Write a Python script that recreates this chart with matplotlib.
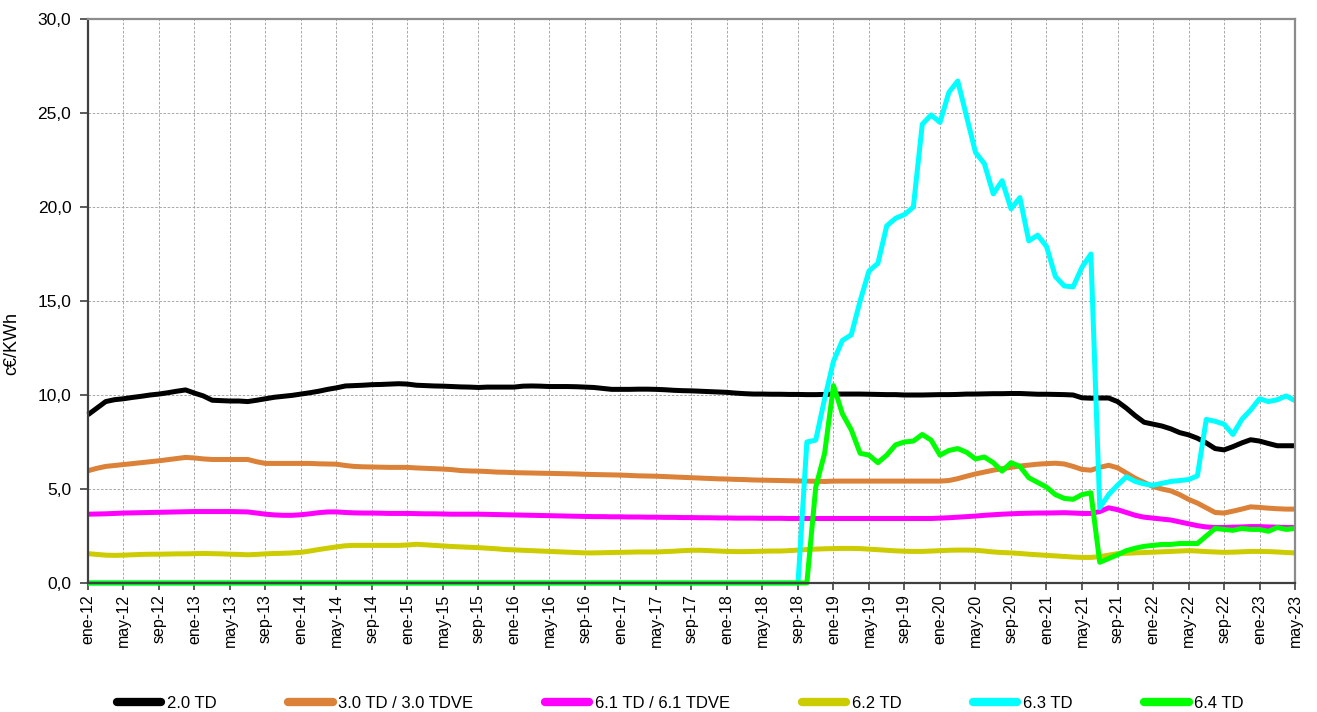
import matplotlib
matplotlib.use("Agg")
import matplotlib.pyplot as plt
from matplotlib.ticker import FuncFormatter
import numpy as np

plt.rcParams['font.family'] = ['Liberation Sans', 'DejaVu Sans']

# meses ene-12 .. may-23
nombres_mes = ["ene", "feb", "mar", "abr", "may", "jun", "jul", "ago", "sep", "oct", "nov", "dic"]
meses = [f"{nombres_mes[i % 12]}-{12 + i // 12}" for i in range(137)]

td_20 = [
    8.95, 9.3, 9.65, 9.75, 9.8, 9.87, 9.93, 10.0, 10.05, 10.12, 10.2, 10.27,
    10.1, 9.95, 9.72, 9.7, 9.68, 9.68, 9.65, 9.72, 9.8, 9.88, 9.93, 9.98,
    10.05, 10.12, 10.2, 10.3, 10.38, 10.48, 10.5, 10.52, 10.55, 10.56, 10.58, 10.6,
    10.58, 10.52, 10.5, 10.48, 10.47, 10.45, 10.43, 10.42, 10.4, 10.42, 10.42, 10.42,
    10.42, 10.47, 10.48, 10.47, 10.45, 10.45, 10.45, 10.44, 10.42, 10.4, 10.35, 10.3,
    10.3, 10.3, 10.31, 10.31, 10.3, 10.28, 10.25, 10.23, 10.22, 10.2, 10.18, 10.16,
    10.14, 10.1, 10.07, 10.05, 10.05, 10.04, 10.04, 10.03, 10.03, 10.02, 10.02, 10.03,
    10.05, 10.05, 10.05, 10.05, 10.04, 10.03, 10.02, 10.02, 10.0, 10.0, 10.0, 10.01,
    10.02, 10.02, 10.03, 10.05, 10.05, 10.06, 10.07, 10.07, 10.08, 10.08, 10.06, 10.04,
    10.04, 10.03, 10.02, 10.0, 9.85, 9.83, 9.84, 9.84, 9.65, 9.3, 8.9, 8.55,
    8.45, 8.35, 8.2, 8.0, 7.88, 7.7, 7.45, 7.15, 7.08, 7.25, 7.45, 7.62,
    7.55, 7.42, 7.3, 7.3, 7.3,
]

td_30 = [
    5.97, 6.1, 6.2, 6.25, 6.3, 6.35, 6.4, 6.45, 6.5, 6.56, 6.62, 6.68,
    6.65, 6.6, 6.57, 6.57, 6.57, 6.57, 6.57, 6.45, 6.36, 6.36, 6.36, 6.36,
    6.36, 6.36, 6.34, 6.33, 6.32, 6.25, 6.2, 6.18, 6.17, 6.16, 6.15, 6.15,
    6.15, 6.12, 6.1, 6.08, 6.06, 6.03, 5.98, 5.96, 5.95, 5.93, 5.9, 5.89,
    5.87, 5.86, 5.85, 5.84, 5.83, 5.82, 5.81, 5.8, 5.78, 5.77, 5.76, 5.75,
    5.74, 5.72, 5.7, 5.69, 5.68, 5.66, 5.64, 5.62, 5.6, 5.58, 5.56, 5.54,
    5.53, 5.51, 5.5, 5.48, 5.47, 5.46, 5.45, 5.44, 5.43, 5.42, 5.41, 5.4,
    5.42, 5.42, 5.42, 5.42, 5.42, 5.42, 5.42, 5.42, 5.42, 5.42, 5.42, 5.42,
    5.42, 5.45, 5.55, 5.68, 5.8, 5.9, 6.0, 6.08, 6.15, 6.22, 6.27, 6.32,
    6.35, 6.37, 6.33, 6.2, 6.04, 6.0, 6.15, 6.26, 6.13, 5.85, 5.57, 5.35,
    5.13, 5.0, 4.9, 4.7, 4.45, 4.25, 4.0, 3.75, 3.72, 3.82, 3.93, 4.05,
    4.02, 3.98, 3.95, 3.93, 3.93,
]

td_61 = [
    3.66, 3.67, 3.68, 3.7, 3.72, 3.73, 3.74, 3.75, 3.76, 3.77, 3.78, 3.79,
    3.8, 3.8, 3.8, 3.8, 3.8, 3.79, 3.78, 3.72, 3.66, 3.62, 3.6, 3.6,
    3.63, 3.68, 3.74, 3.78, 3.78, 3.75, 3.73, 3.72, 3.72, 3.71, 3.7, 3.7,
    3.7, 3.69, 3.68, 3.68, 3.67, 3.66, 3.66, 3.66, 3.66, 3.65, 3.64, 3.63,
    3.62, 3.61, 3.6, 3.59, 3.58, 3.57, 3.56, 3.55, 3.54, 3.53, 3.53, 3.52,
    3.52, 3.51, 3.51, 3.5, 3.5, 3.49, 3.49, 3.48, 3.48, 3.47, 3.47, 3.46,
    3.46, 3.45, 3.45, 3.45, 3.44, 3.44, 3.44, 3.43, 3.43, 3.43, 3.43, 3.43,
    3.43, 3.43, 3.43, 3.43, 3.43, 3.43, 3.43, 3.43, 3.43, 3.43, 3.43, 3.43,
    3.45, 3.47, 3.5, 3.53, 3.56, 3.6, 3.63, 3.66, 3.68, 3.7, 3.71, 3.72,
    3.72, 3.73, 3.74, 3.72, 3.7, 3.7, 3.8, 4.0, 3.9, 3.75, 3.6, 3.5,
    3.45, 3.4, 3.35, 3.25, 3.15, 3.05, 2.98, 2.95, 2.95, 2.97, 2.98, 3.0,
    3.0, 2.98, 2.97, 2.95, 2.95,
]

td_62 = [
    1.56, 1.52, 1.48, 1.47, 1.48, 1.5, 1.52, 1.53, 1.53, 1.54, 1.55, 1.55,
    1.56, 1.57, 1.56, 1.55, 1.53, 1.52, 1.5, 1.52, 1.55, 1.57, 1.58, 1.6,
    1.63, 1.7, 1.78, 1.85, 1.92, 1.98, 2.0, 2.0, 2.0, 2.0, 2.0, 2.0,
    2.02, 2.06, 2.03, 2.0, 1.97, 1.94, 1.92, 1.9, 1.88, 1.85, 1.82, 1.78,
    1.76, 1.74, 1.72, 1.7, 1.68, 1.66, 1.64, 1.62, 1.6, 1.6, 1.61, 1.62,
    1.63, 1.64, 1.65, 1.65, 1.65, 1.67, 1.69, 1.72, 1.74, 1.74, 1.72, 1.7,
    1.68, 1.67, 1.67, 1.68, 1.69, 1.7, 1.7, 1.72, 1.75, 1.78, 1.8, 1.82,
    1.83, 1.84, 1.84, 1.83, 1.8, 1.77, 1.74, 1.71, 1.69, 1.68, 1.68, 1.7,
    1.72, 1.74, 1.75, 1.75, 1.74, 1.7, 1.65, 1.62, 1.6, 1.57, 1.53, 1.5,
    1.47, 1.44, 1.41, 1.38, 1.36, 1.36, 1.4, 1.48, 1.56, 1.58, 1.6, 1.62,
    1.64, 1.66, 1.68, 1.7, 1.72, 1.7, 1.67, 1.65, 1.63, 1.64, 1.66, 1.68,
    1.68, 1.67, 1.65, 1.62, 1.6,
]

td_63 = [0.0] * 81 + [
    7.5, 7.6, 9.8,
    11.8, 12.9, 13.2, 15.0, 16.6, 17.0, 19.0, 19.4, 19.6, 20.0, 24.4, 24.9,
    24.5, 26.1, 26.7, 24.8, 22.9, 22.3, 20.7, 21.4, 19.9, 20.5, 18.2, 18.5,
    17.9, 16.3, 15.8, 15.75, 16.8, 17.5, 4.0, 4.7, 5.2, 5.65, 5.4, 5.27,
    5.2, 5.3, 5.4, 5.45, 5.5, 5.7, 8.7, 8.6, 8.45, 7.9, 8.7, 9.2,
    9.8, 9.65, 9.75, 9.95, 9.7,
]

td_64 = [0.0] * 82 + [
    5.1, 6.9,
    10.5, 9.0, 8.15, 6.9, 6.8, 6.4, 6.8, 7.35, 7.5, 7.55, 7.9, 7.6,
    6.8, 7.05, 7.15, 6.95, 6.6, 6.7, 6.4, 5.95, 6.4, 6.2, 5.6, 5.35,
    5.1, 4.7, 4.5, 4.45, 4.7, 4.8, 1.1, 1.3, 1.5, 1.72, 1.85, 1.95,
    2.0, 2.05, 2.05, 2.1, 2.1, 2.1, 2.5, 2.9, 2.85, 2.8, 2.9, 2.85,
    2.85, 2.75, 2.95, 2.85, 2.9,
]

series = [
    ("2.0 TD", td_20, "#000000"),
    ("3.0 TD / 3.0 TDVE", td_30, "#DB8138"),
    ("6.1 TD / 6.1 TDVE", td_61, "#FF00FF"),
    ("6.2 TD", td_62, "#CCCC00"),
    ("6.3 TD", td_63, "#00FFFF"),
    ("6.4 TD", td_64, "#00FF00"),
]

fig = plt.figure(figsize=(13.17, 7.12), dpi=100)
ax = fig.add_axes([0.0668, 0.1812, 0.9165, 0.7921])

x = np.arange(len(meses))
for nombre, valores, color in series:
    ax.plot(x, valores, color=color, lw=3.6, label=nombre,
            solid_joinstyle="round", solid_capstyle="butt", clip_on=False)

ax.set_xlim(0, len(meses) - 1)
ax.set_ylim(0, 30)
ax.set_yticks(np.arange(0, 31, 5))
ax.yaxis.set_major_formatter(FuncFormatter(lambda v, p: f"{v:.1f}".replace(".", ",")))
ticks = x[::4]
ax.set_xticks(ticks)
ax.set_xticklabels([meses[i] for i in ticks], rotation=90, fontsize=11.5)
ax.tick_params(axis="y", labelsize=12.5, length=6, width=1.2, pad=6, color="#404040")
ax.tick_params(axis="x", length=5, width=1.2, pad=3, color="#404040")
ax.set_ylabel("c€/KWh", fontsize=13)
ax.yaxis.set_label_coords(-0.0565, 0.425)

ax.grid(True, color="#9a9a9a", linestyle=(0, (3, 2)), linewidth=0.6)
ax.set_axisbelow(True)
for lado in ("left", "bottom"):
    ax.spines[lado].set_color("#404040")
    ax.spines[lado].set_linewidth(1.6)
for lado in ("top", "right"):
    ax.spines[lado].set_color("#8c8c8c")
    ax.spines[lado].set_linewidth(1.6)

leg = fig.legend(loc="center", bbox_to_anchor=(0.5167, 0.012), ncol=6, frameon=False,
                 fontsize=12, handlelength=2.65, handletextpad=0.35, columnspacing=4.3)
for linea in leg.get_lines():
    linea.set_linewidth(6)
    linea.set_solid_capstyle("round")

fig.savefig("out.png", dpi=100)
